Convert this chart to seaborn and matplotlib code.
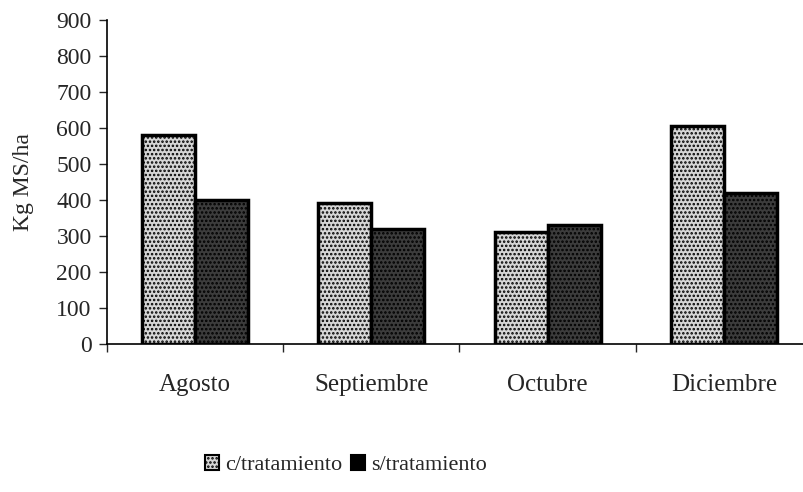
import pandas as pd
import matplotlib
matplotlib.use('Agg')
import matplotlib.pyplot as plt
import matplotlib.patches as mpatches
from matplotlib.ticker import FixedLocator
import seaborn as sns

meses = ['Agosto', 'Septiembre', 'Octubre', 'Diciembre']
con_trat = [580, 392, 311, 606]
sin_trat = [400, 320, 330, 420]
series = ['c/tratamiento', 's/tratamiento']
yticks = [0, 100, 200, 300, 400, 500, 600, 700, 800, 900]

df = pd.DataFrame({
    'mes': meses * 2,
    'valor': con_trat + sin_trat,
    'trat': [series[0]] * len(meses) + [series[1]] * len(meses),
})

sns.set_style('white')
plt.rcParams['font.family'] = ['Liberation Serif', 'DejaVu Serif']
plt.rcParams['hatch.linewidth'] = 1.2

fig = plt.figure(figsize=(8.04, 4.92), dpi=100)

ax = fig.add_axes([0.133, 0.301, 0.877, 0.659])
sns.barplot(data=df, x='mes', y='valor', hue='trat', order=meses, hue_order=series,
            palette=['#d6d6d6', '#3c3c3c'], width=0.6, saturation=1, ax=ax,
            edgecolor='black', linewidth=2.5, legend=False)

n = len(meses)
for p in ax.patches[:2 * n]:
    p.set_hatch('....')
    p.set_edgecolor('black')

ax.set_ylim(0, 900)
ax.set_xlim(-0.5, n - 0.5)
ax.set_yticks(yticks)
ax.set_yticklabels([str(v) for v in yticks], fontsize=17)
ax.set_xticks(range(n))
ax.set_xticklabels(meses, fontsize=18)
ax.xaxis.set_minor_locator(FixedLocator([i - 0.5 for i in range(n + 1)]))
ax.tick_params(axis='x', which='major', length=0, pad=22)
ax.tick_params(axis='x', which='minor', length=6, width=1, direction='out', bottom=True)
ax.tick_params(axis='y', length=6, width=1, direction='out', left=True, pad=5)
ax.set_xlabel('')
ax.set_ylabel('Kg MS/ha', fontsize=17, labelpad=16)
for s in ['top', 'right']:
    ax.spines[s].set_visible(False)
for s in ['left', 'bottom']:
    ax.spines[s].set_color('black')
    ax.spines[s].set_linewidth(1.2)

handles = [
    mpatches.Patch(facecolor='#d6d6d6', edgecolor='black', hatch='....', linewidth=1.5, label=series[0]),
    mpatches.Patch(facecolor='black', edgecolor='black', linewidth=1.5, label=series[1]),
]
fig.legend(handles=handles, loc='center', bbox_to_anchor=(0.43, 0.055), ncol=2, frameon=False,
           fontsize=16, handlelength=0.65, handleheight=0.65, handletextpad=0.25, columnspacing=0.4)

fig.savefig('out.png', dpi=100)
